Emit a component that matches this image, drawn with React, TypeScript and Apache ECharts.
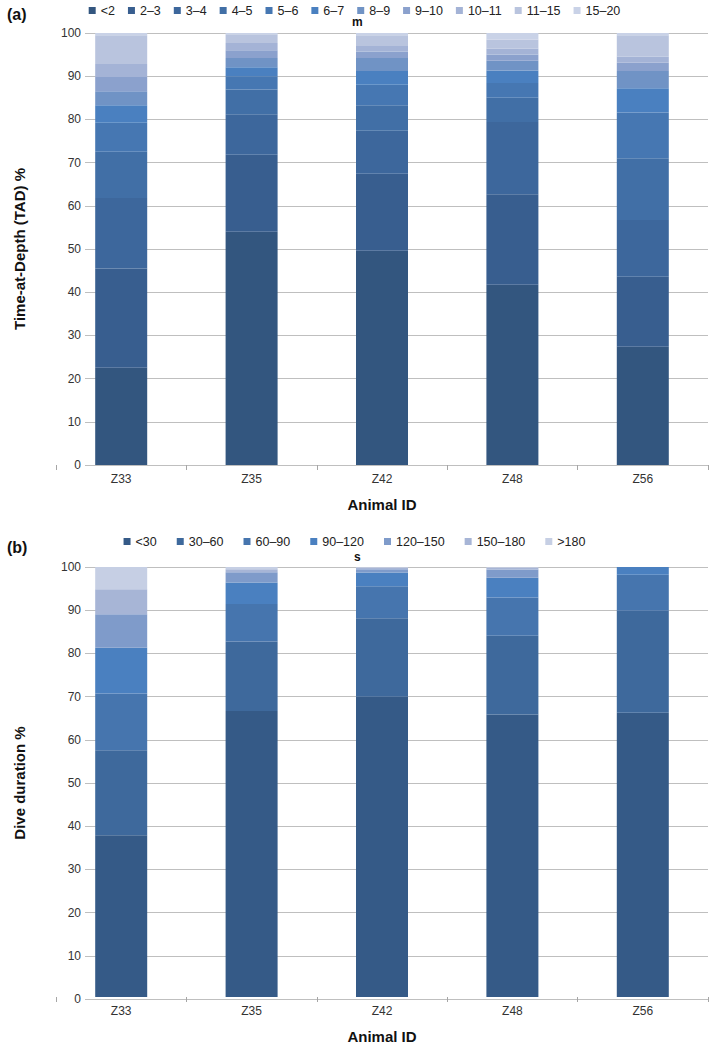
import React, { useEffect, useRef } from "react";
import * as echarts from "echarts";

const animals = ["Z33", "Z35", "Z42", "Z48", "Z56"];
const yTicks = [0, 100, 10]; // min, max, interval

// (a) Time-at-depth, m
const depthBins = ["<2", "2–3", "3–4", "4–5", "5–6", "6–7", "8–9", "9–10", "10–11", "11–15", "15–20"];
const tadZ33 = [22.5, 23.0, 16.3, 10.7, 6.7, 4.1, 3.2, 3.3, 3.0, 6.7, 0.5];
const tadZ35 = [54.0, 17.8, 9.4, 5.7, 3.1, 2.1, 2.1, 1.8, 1.7, 2.0, 0.3];
const tadZ42 = [49.6, 17.8, 10.0, 5.9, 4.7, 3.2, 3.0, 1.5, 1.3, 2.5, 0.5];
const tadZ48 = [41.7, 21.0, 16.7, 5.6, 3.4, 2.9, 2.3, 1.4, 1.4, 2.1, 1.5];
const tadZ56 = [27.4, 16.2, 13.1, 14.3, 10.6, 5.6, 4.0, 1.9, 1.4, 5.0, 0.5];

// (b) Dive duration, s
const durationBins = ["<30", "30–60", "60–90", "90–120", "120–150", "150–180", ">180"];
const durZ33 = [37.6, 19.8, 13.2, 10.6, 7.8, 5.8, 5.2];
const durZ35 = [66.5, 16.2, 8.7, 5.0, 2.4, 0.7, 0.5];
const durZ42 = [69.8, 18.3, 7.4, 3.2, 0.8, 0.3, 0.2];
const durZ48 = [65.7, 18.3, 8.9, 4.6, 1.9, 0.4, 0.2];
const durZ56 = [66.1, 23.7, 8.4, 1.8, 0, 0, 0];

const depthColors = ["#33567f", "#385e8f", "#3d679c", "#416fa6", "#4677b2", "#4a80c0", "#7093c5", "#8ba1cd", "#a4b3d6", "#b9c4de", "#c9d2e7"];
const durationColors = ["#355a87", "#3e699c", "#4675ae", "#4a80c0", "#7f9bca", "#a7b5d6", "#c6cfe4"];

const FONT = "'Liberation Sans', Arial, sans-serif";

export default function App() {
  const ref = useRef<HTMLDivElement>(null);
  useEffect(() => {
    if (!ref.current) return;
    const chart = echarts.init(ref.current, null, { renderer: "svg" });
    const tadByAnimal = [tadZ33, tadZ35, tadZ42, tadZ48, tadZ56];
    const durByAnimal = [durZ33, durZ35, durZ42, durZ48, durZ56];

    const catAxis = (gridIndex: number) => ({
      type: "category",
      gridIndex,
      data: animals,
      boundaryGap: true,
      axisLine: { show: false },
      axisTick: { show: true, length: 5, lineStyle: { color: "#a6a6a6" } },
      axisLabel: { fontSize: 12, color: "#333", margin: 8, fontFamily: FONT },
      name: "Animal ID",
      nameLocation: "middle",
      nameGap: 32,
      nameTextStyle: { fontSize: 15, fontWeight: "bold", color: "#111", fontFamily: FONT },
    });
    const hiddenX = (gridIndex: number) => ({ type: "value", gridIndex, min: 0, max: 1, show: false });
    const hiddenY = (gridIndex: number) => ({ type: "value", gridIndex, min: yTicks[0], max: yTicks[1], show: false });
    const shownY = (gridIndex: number, name: string) => ({
      type: "value",
      gridIndex,
      min: yTicks[0],
      max: yTicks[1],
      interval: yTicks[2],
      axisLine: { show: false },
      axisTick: { show: false },
      axisLabel: { fontSize: 12, color: "#333", margin: 4, fontFamily: FONT },
      splitLine: { show: true, lineStyle: { color: "#bfbfbf", width: 1 } },
      name,
      nameLocation: "middle",
      nameRotate: 90,
      nameGap: 58,
      nameTextStyle: { fontSize: 15, fontWeight: "bold", color: "#111", fontFamily: FONT },
    });

    const seriesA = depthBins.map((name, i) => ({
      name,
      type: "bar",
      stack: "tad",
      xAxisIndex: 0,
      yAxisIndex: 0,
      barWidth: 52,
      data: tadByAnimal.map((a) => a[i]),
      itemStyle: { color: depthColors[i] },
    }));
    const seriesB = durationBins.map((name, i) => ({
      name,
      type: "bar",
      stack: "dur",
      xAxisIndex: 2,
      yAxisIndex: 2,
      barWidth: 52,
      data: durByAnimal.map((a) => a[i]),
      itemStyle: { color: durationColors[i] },
    }));

    chart.setOption({
      animation: false,
      textStyle: { fontFamily: FONT },
      grid: [
        { left: 56, right: 1, top: 33, height: 432 },
        { left: 85, right: 1, top: 33, height: 432 },
        { left: 56, right: 1, top: 567, height: 432 },
        { left: 85, right: 1, top: 567, height: 432 },
      ],
      xAxis: [catAxis(0), hiddenX(1), catAxis(2), hiddenX(3)],
      yAxis: [hiddenY(0), shownY(1, "Time-at-Depth (TAD) %"), hiddenY(2), shownY(3, "Dive duration %")],
      legend: [
        {
          data: depthBins,
          top: -1,
          left: "center",
          icon: "rect",
          itemWidth: 7,
          itemHeight: 7,
          itemGap: 13,
          textStyle: { fontSize: 12.5, color: "#222", fontFamily: FONT },
        },
        {
          data: durationBins,
          top: 530,
          left: "center",
          icon: "rect",
          itemWidth: 7,
          itemHeight: 7,
          itemGap: 20,
          textStyle: { fontSize: 12.5, color: "#222", fontFamily: FONT },
        },
      ],
      graphic: [
        { type: "text", left: 7, top: 6, style: { text: "(a)", fontSize: 16, fontWeight: "bold", fill: "#111", fontFamily: FONT } },
        { type: "text", left: 352, top: 16, style: { text: "m", fontSize: 12, fontWeight: "bold", fill: "#111", fontFamily: FONT } },
        { type: "text", left: 7, top: 539, style: { text: "(b)", fontSize: 16, fontWeight: "bold", fill: "#111", fontFamily: FONT } },
        { type: "text", left: 354, top: 551, style: { text: "s", fontSize: 12, fontWeight: "bold", fill: "#111", fontFamily: FONT } },
      ],
      series: [...seriesA, ...seriesB],
    });
    return () => chart.dispose();
  }, []);
  return <div ref={ref} style={{ position: "absolute", left: 0, top: 0, width: 709, height: 1045, background: "#fff" }} />;
}
